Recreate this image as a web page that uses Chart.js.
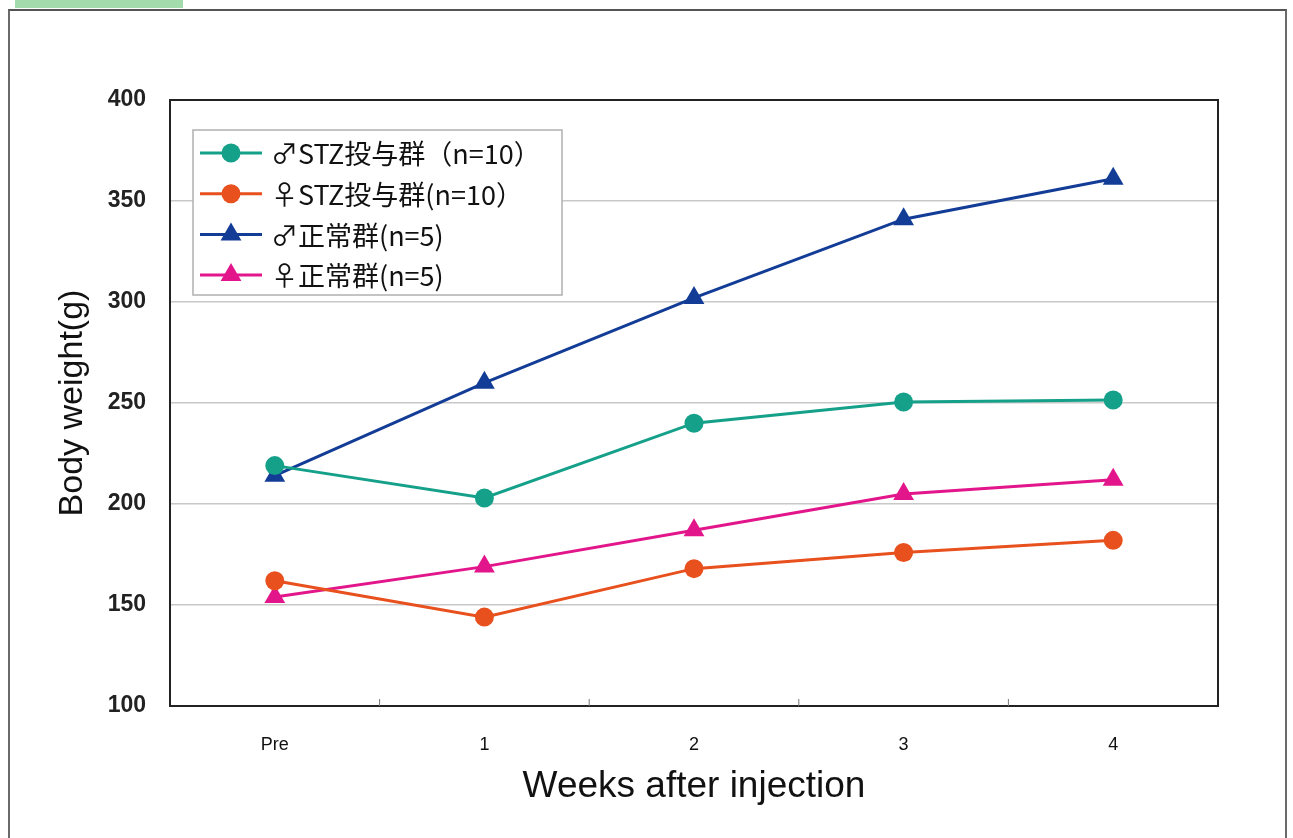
<!DOCTYPE html>
<html>
<head>
<meta charset="utf-8">
<script src="https://cdn.jsdelivr.net/npm/chart.js@4.4.0/dist/chart.umd.min.js"></script>
<style>
  body { margin: 0; background: #fff; overflow: hidden; }
  #frame { position: absolute; left: 8px; top: 9px; width: 1275px; height: 850px;
           border: 2px solid #6a6a6a; border-top-color: #555; }
  #tab { position: absolute; left: 15px; top: 0; width: 168px; height: 8px; background: #a3dbac; }
  #wrap { position: absolute; left: 0; top: 0; width: 1293px; height: 838px; }
</style>
</head>
<body>
<div id="tab"></div>
<div id="frame"></div>
<div id="wrap"><canvas id="chart" width="1293" height="838"></canvas></div>
<script>
const weeks = ["Pre", "1", "2", "3", "4"];
const maleStz = [219, 203, 240, 250.5, 251.5];
const femaleStz = [162, 144, 168, 176, 182];
const maleNormal = [214, 260, 302, 341, 361];
const femaleNormal = [154, 169, 187, 205, 212];
const yTicks = [100, 150, 200, 250, 300, 350, 400];

const seriesNames = ["♂STZ投与群（n=10）", "♀STZ投与群(n=10）", "♂正常群(n=5)", "♀正常群(n=5)"];
const seriesColors = ["#15a08a", "#e8501e", "#123c96", "#e2158b"];

function makeSet(i, values, style, radius) {
  return {
    label: seriesNames[i],
    data: values,
    borderColor: seriesColors[i],
    backgroundColor: seriesColors[i],
    borderWidth: 3,
    pointStyle: style,
    pointRadius: radius,
    pointHoverRadius: radius,
    pointBorderWidth: 0,
    tension: 0,
  };
}

// plot frame, inward x ticks and the boxed legend
const extras = {
  id: "extras",
  afterDatasetsDraw(chart) {
    const ctx = chart.ctx;
    const a = chart.chartArea;
    const x = chart.scales.x;
    ctx.save();
    ctx.strokeStyle = "#222";
    ctx.lineWidth = 2;
    ctx.strokeRect(a.left, a.top, a.right - a.left, a.bottom - a.top);
    ctx.lineWidth = 1;
    ctx.strokeStyle = "#777";
    for (let i = 1; i < weeks.length; i++) {
      const px = (x.getPixelForValue(i - 1) + x.getPixelForValue(i)) / 2;
      ctx.beginPath();
      ctx.moveTo(px, a.bottom);
      ctx.lineTo(px, a.bottom - 7);
      ctx.stroke();
    }

    const bx = a.left + 23, by = a.top + 30, bw = 369, bh = 165;
    ctx.fillStyle = "#fff";
    ctx.fillRect(bx, by, bw, bh);
    ctx.strokeStyle = "#b0b0b0";
    ctx.lineWidth = 1.5;
    ctx.strokeRect(bx, by, bw, bh);
    ctx.font = "27px 'Noto Sans CJK JP', 'Liberation Sans', sans-serif";
    ctx.textBaseline = "middle";
    chart.data.datasets.forEach((ds, i) => {
      const cy = by + 23 + i * 40.7;
      ctx.strokeStyle = ds.borderColor;
      ctx.lineWidth = 3;
      ctx.beginPath();
      ctx.moveTo(bx + 7, cy);
      ctx.lineTo(bx + 69, cy);
      ctx.stroke();
      ctx.fillStyle = ds.backgroundColor;
      Chart.helpers.drawPoint(ctx, { pointStyle: ds.pointStyle, radius: ds.pointRadius, borderWidth: 0 }, bx + 38, cy);
      ctx.fillStyle = "#111";
      ctx.fillText(ds.label, bx + 78, cy + 1);
    });
    ctx.restore();
  },
};

new Chart(document.getElementById("chart"), {
  type: "line",
  data: {
    labels: weeks,
    datasets: [
      makeSet(0, maleStz, "circle", 9.5),
      makeSet(1, femaleStz, "circle", 9.5),
      makeSet(2, maleNormal, "triangle", 12),
      makeSet(3, femaleNormal, "triangle", 12),
    ],
  },
  options: {
    responsive: false,
    animation: false,
    layout: { padding: { top: 100, right: 75, left: 0, bottom: 0 } },
    plugins: { legend: { display: false }, tooltip: { enabled: false } },
    scales: {
      x: {
        offset: true,
        grid: { display: false },
        border: { display: false },
        ticks: { color: "#111", padding: 20, font: { family: "Liberation Sans", size: 18 } },
        title: {
          display: true,
          text: "Weeks after injection",
          color: "#111",
          font: { family: "Liberation Sans", size: 37 },
          padding: { bottom: 29 },
        },
        afterFit(scale) { scale.height = 132; },
      },
      y: {
        min: 100,
        max: 400,
        afterBuildTicks(scale) { scale.ticks = yTicks.map((v) => ({ value: v })); },
        grid: { color: "#c8c8c8", lineWidth: 1.5, drawTicks: false },
        border: { display: false },
        ticks: { color: "#222", padding: 24, font: { family: "Liberation Sans", size: 23, weight: "bold" } },
        title: {
          display: true,
          text: "Body weight(g)",
          color: "#111",
          font: { family: "Liberation Sans", size: 34 },
          padding: { top: 52 },
        },
        afterFit(scale) { scale.width = 170; },
      },
    },
  },
  plugins: [extras],
});
</script>
</body>
</html>
